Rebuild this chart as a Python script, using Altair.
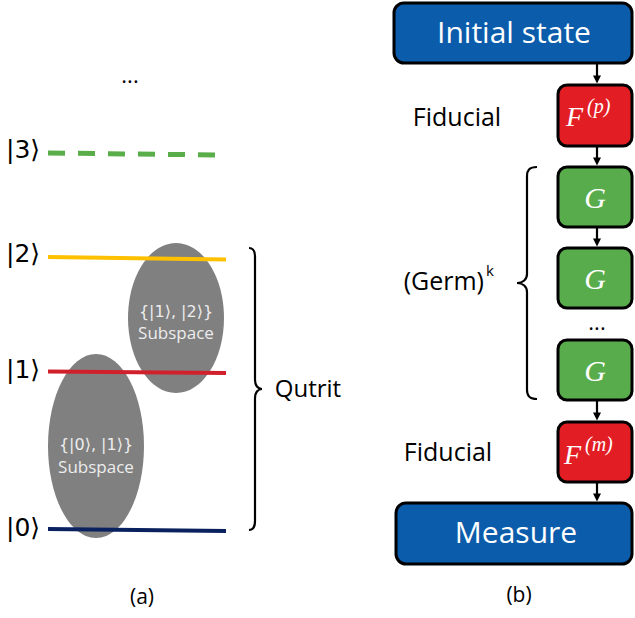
import altair as alt
import pandas as pd

W, H = 635, 618
SANS = "Open Sans"
MATH = "Liberation Serif"

# ---- panel (a): energy ladder -------------------------------------------
level_names = ["|3⟩", "|2⟩", "|1⟩", "|0⟩"]
level_label_x = [23, 23, 23, 23]
level_label_y = [150, 254, 370, 528]
level_x0 = [48, 48, 48, 48]
level_x1 = [217, 226, 226, 226]
level_y0 = [153, 257, 371.5, 529]
level_y1 = [155, 259.5, 373, 531]
level_colors = ["#5AAE4A", "#FFC000", "#D0202C", "#0A2160"]
level_dashed = [True, False, False, False]

subspace_labels = ["{|1⟩, |2⟩}", "{|0⟩, |1⟩}"]
ellipse_cx = [176, 96]
ellipse_cy = [318, 446]
ellipse_rx = [48, 48]
ellipse_ry = [75, 92]
subspace_label_y = [312, 445]
subspace_word_y = [334, 468]

# ---- panel (b): GST sequence --------------------------------------------
box_names = ["Initial state", "F", "G", "G", "G", "F", "Measure"]
box_x0 = [394, 558, 558, 558, 558, 558, 396]
box_x1 = [632, 632, 632, 632, 632, 632, 632]
box_y0 = [3, 85, 167, 248, 340, 422, 503]
box_y1 = [63, 146, 227, 308, 400, 482, 564]
box_fill = ["#0B5CAB", "#E31D24", "#58AC4B", "#58AC4B", "#58AC4B", "#E31D24", "#0B5CAB"]
box_radius = [10, 9, 9, 9, 9, 9, 10]

arrow_x = [597, 597, 597, 597, 597]
arrow_y0 = [63, 146, 227, 400, 482]
arrow_y1 = [85, 167, 248, 422, 503]

xs = alt.Scale(domain=[0, W], nice=False, zero=False)
ys = alt.Scale(domain=[H, 0], nice=False, zero=False)


def X(f):
    return alt.X(f"{f}:Q", scale=xs, axis=None)


def Y(f):
    return alt.Y(f"{f}:Q", scale=ys, axis=None)


def ellipse_path(ratio):
    k = 0.5523
    a = ratio
    return (f"M {a:.4f} 0 C {a:.4f} {k:.4f} {k*a:.4f} 1 0 1 "
            f"C {-k*a:.4f} 1 {-a:.4f} {k:.4f} {-a:.4f} 0 "
            f"C {-a:.4f} {-k:.4f} {-k*a:.4f} -1 0 -1 "
            f"C {k*a:.4f} -1 {a:.4f} {-k:.4f} {a:.4f} 0 Z")


def brace_path(hook, tip, r):
    # curly brace in a unit box, vertical spine at x=0; hook/tip give the
    # horizontal reach of the ends and the middle point (sign sets direction)
    return (f"M {hook:.4f} -1 C {hook*0.2:.4f} -1 0 {-1+r*0.4:.4f} 0 {-1+r:.4f} "
            f"L 0 {-r:.4f} C 0 {-r*0.4:.4f} {tip*0.4:.4f} 0 {tip:.4f} 0 "
            f"C {tip*0.4:.4f} 0 0 {r*0.4:.4f} 0 {r:.4f} "
            f"L 0 {1-r:.4f} C 0 {1-r*0.4:.4f} {hook*0.2:.4f} 1 {hook:.4f} 1")


levels = pd.DataFrame({
    "name": level_names, "lx": level_label_x, "ly": level_label_y,
    "x0": level_x0, "x1": level_x1, "y0": level_y0, "y1": level_y1,
    "color": level_colors, "dashed": level_dashed,
})

layers = []

# subspace ellipses (under the level lines)
for cx, cy, rx, ry in zip(ellipse_cx, ellipse_cy, ellipse_rx, ellipse_ry):
    d = pd.DataFrame({"x": [cx], "y": [cy]})
    layers.append(
        alt.Chart(d).mark_point(
            shape=ellipse_path(rx / ry), size=(2 * ry) ** 2, filled=True,
            fill="#808080", stroke=None, strokeWidth=0, opacity=1,
        ).encode(x=X("x"), y=Y("y"))
    )

solid = levels[~levels["dashed"]]
dashed = levels[levels["dashed"]]
layers.append(
    alt.Chart(solid).mark_rule(strokeWidth=4).encode(
        x=X("x0"), x2="x1", y=Y("y0"), y2="y1",
        color=alt.Color("color:N", scale=None),
    )
)
layers.append(
    alt.Chart(dashed).mark_rule(strokeWidth=5, strokeDash=[17, 13]).encode(
        x=X("x0"), x2="x1", y=Y("y0"), y2="y1",
        color=alt.Color("color:N", scale=None),
    )
)
layers.append(
    alt.Chart(levels).mark_text(font="DejaVu Sans", fontSize=25, color="black",
                                baseline="middle", align="center").encode(
        x=X("lx"), y=Y("ly"), text="name:N")
)

sub = pd.DataFrame({
    "label": subspace_labels, "x": ellipse_cx,
    "ly": subspace_label_y, "wy": subspace_word_y,
})
layers.append(
    alt.Chart(sub).mark_text(font="DejaVu Sans", fontSize=16, color="#EDEDED",
                             baseline="middle").encode(
        x=X("x"), y=Y("ly"), text="label:N")
)
layers.append(
    alt.Chart(sub).mark_text(font=SANS, fontSize=17, color="#EDEDED",
                             baseline="middle").encode(
        x=X("x"), y=Y("wy"), text=alt.value("Subspace"))
)

# braces
braces = [
    {"x": 255, "y": 389, "half": 141, "hook": -6, "tip": 7},
    {"x": 527, "y": 283, "half": 116, "hook": 10, "tip": -10},
]
for b in braces:
    h = b["half"]
    d = pd.DataFrame({"x": [b["x"]], "y": [b["y"]]})
    layers.append(
        alt.Chart(d).mark_point(
            shape=brace_path(b["hook"] / h, b["tip"] / h, 9 / h),
            size=(2 * h) ** 2, filled=False, stroke="black",
            strokeWidth=2.2, opacity=1,
        ).encode(x=X("x"), y=Y("y"))
    )

# boxes
boxes = pd.DataFrame({
    "name": box_names, "x0": box_x0, "x1": box_x1, "y0": box_y0, "y1": box_y1,
    "fill": box_fill, "r": box_radius,
})
for r in sorted(set(box_radius)):
    layers.append(
        alt.Chart(boxes[boxes["r"] == r]).mark_rect(
            cornerRadius=r, stroke="black", strokeWidth=3,
        ).encode(
            x=X("x0"), x2="x1", y=Y("y0"), y2="y1",
            fill=alt.Fill("fill:N", scale=None),
        )
    )

# arrows
arrows = pd.DataFrame({"x": arrow_x, "y0": arrow_y0, "y1": arrow_y1})
arrows["shaft_end"] = arrows["y1"] - 6
arrows["head"] = arrows["y1"] - 5.5
layers.append(
    alt.Chart(arrows).mark_rule(color="black", strokeWidth=2.2).encode(
        x=X("x"), y=Y("y0"), y2="shaft_end")
)
layers.append(
    alt.Chart(arrows).mark_point(
        shape="M -1 -1 L 1 -1 L 0 1 Z", size=64, filled=True,
        fill="black", stroke=None, opacity=1,
    ).encode(x=X("x"), y=Y("head"))
)

# box captions
big = boxes[boxes["name"].isin(["Initial state", "Measure"])].copy()
big["cx"] = [514, 516]
big["cy"] = [34, 534]
layers.append(
    alt.Chart(big).mark_text(font=SANS, fontSize=30, color="white",
                             baseline="middle").encode(
        x=X("cx"), y=Y("cy"), text="name:N")
)

gates = pd.DataFrame({"t": ["G", "G", "G"], "x": [595, 595, 595], "y": [208, 289, 381]})
layers.append(
    alt.Chart(gates).mark_text(font=MATH, fontStyle="italic", fontSize=30,
                               color="white", baseline="alphabetic").encode(
        x=X("x"), y=Y("y"), text="t:N")
)
fid = pd.DataFrame({"t": ["F", "F"], "x": [566, 564], "y": [126, 464]})
layers.append(
    alt.Chart(fid).mark_text(font=MATH, fontStyle="italic", fontSize=28,
                             color="white", align="left",
                             baseline="alphabetic").encode(
        x=X("x"), y=Y("y"), text="t:N")
)
sup = pd.DataFrame({"t": ["(p)", "(m)"], "x": [587, 585], "y": [113, 451]})
layers.append(
    alt.Chart(sup).mark_text(font=MATH, fontStyle="italic", fontSize=20,
                             color="white", align="left",
                             baseline="alphabetic").encode(
        x=X("x"), y=Y("y"), text="t:N")
)

# side labels
side = pd.DataFrame({
    "t": ["Fiducial", "Fiducial", "Qutrit", "(a)", "(b)"],
    "x": [457, 448, 308, 142, 519],
    "y": [118, 453, 390, 598, 596],
    "s": [25, 25, 24, 21, 21],
})
for s in sorted(side["s"].unique()):
    layers.append(
        alt.Chart(side[side["s"] == s]).mark_text(
            font=SANS, fontSize=int(s), color="black", baseline="middle",
        ).encode(x=X("x"), y=Y("y"), text="t:N")
    )

germ = pd.DataFrame({"t": ["(Germ)"], "x": [484], "y": [282]})
layers.append(
    alt.Chart(germ).mark_text(font=SANS, fontSize=25, color="black",
                              align="right", baseline="middle").encode(
        x=X("x"), y=Y("y"), text="t:N")
)
germ_k = pd.DataFrame({"t": ["k"], "x": [486], "y": [271]})
layers.append(
    alt.Chart(germ_k).mark_text(font=SANS, fontSize=15, color="black",
                                align="left", baseline="middle").encode(
        x=X("x"), y=Y("y"), text="t:N")
)

dots = pd.DataFrame({"t": ["...", "..."], "x": [130, 597], "y": [83, 330]})
layers.append(
    alt.Chart(dots).mark_text(font=SANS, fontSize=22, color="black",
                              baseline="alphabetic").encode(
        x=X("x"), y=Y("y"), text="t:N")
)

chart = alt.layer(*layers).properties(
    width=W, height=H, padding=0, background="white",
    autosize=alt.AutoSizeParams(type="none"),
).configure_view(stroke=None)

chart.save("out.html", embed_options={"renderer": "svg", "actions": False})
